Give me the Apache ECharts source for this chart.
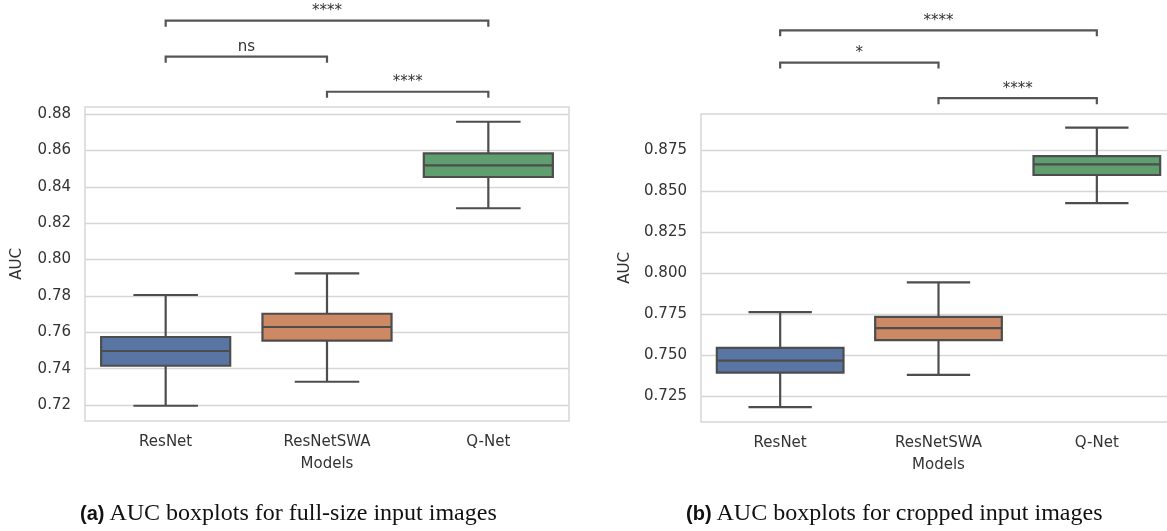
<!DOCTYPE html>
<html>
<head>
<meta charset="utf-8">
<script src="https://cdn.jsdelivr.net/npm/echarts@6/dist/echarts.min.js"></script>
<style>
html,body{margin:0;padding:0;background:#fff;overflow:hidden;width:1167px;height:531px;}
#chart{width:1190px;height:531px;}
</style>
</head>
<body>
<div id="chart"></div>
<script>
// ---- data ----
const categories = ['ResNet', 'ResNetSWA', 'Q-Net'];

const fullLow    = [0.7196, 0.7328, 0.8282];
const fullQ1     = [0.7416, 0.7554, 0.8454];
const fullMedian = [0.7497, 0.7629, 0.8518];
const fullQ3     = [0.7574, 0.7702, 0.8584];
const fullHigh   = [0.7805, 0.7924, 0.8758];

const cropLow    = [0.7185, 0.7382, 0.8427];
const cropQ1     = [0.7396, 0.7593, 0.8598];
const cropMedian = [0.7469, 0.7666, 0.8663];
const cropQ3     = [0.7546, 0.7735, 0.8713];
const cropHigh   = [0.7763, 0.7944, 0.8886];

const fullTicks = [0.72, 0.74, 0.76, 0.78, 0.80, 0.82, 0.84, 0.86, 0.88];
const cropTicks = [0.725, 0.750, 0.775, 0.800, 0.825, 0.850, 0.875];

// significance brackets: [from category, to category, level, label]
const fullBrackets = [[0, 2, 0.9314, '****'], [0, 1, 0.9116, 'ns'], [1, 2, 0.8923, '****']];
const cropBrackets = [[0, 2, 0.9478, '****'], [0, 1, 0.9282, '*'], [1, 2, 0.9065, '****']];

const captionA = ['(a)', 'AUC boxplots for full-size input images'];
const captionB = ['(b)', 'AUC boxplots for cropped input images'];

// ---- styles ----
const boxColors = ['#5975a4', '#cc8963', '#5f9e6e'];
const lineColor = '#4d4d4d';
const textColor = '#333333';
const gridColor = '#d6d6d6';
const FONT = 'DejaVu Sans';

function boxData(low, q1, med, q3, high) {
  return categories.map((c, i) => [i, low[i], q1[i], med[i], q3[i], high[i]]);
}

function renderBox(params, api) {
  const x = api.value(0);
  const band = api.size([1, 0])[0];
  const bw = band * 0.8, cw = band * 0.4;
  const pLow = api.coord([x, api.value(1)]);
  const pQ1 = api.coord([x, api.value(2)]);
  const pMed = api.coord([x, api.value(3)]);
  const pQ3 = api.coord([x, api.value(4)]);
  const pHigh = api.coord([x, api.value(5)]);
  const cx = pQ1[0];
  const ls = {stroke: lineColor, lineWidth: 2.2};
  return {
    type: 'group',
    children: [
      {type: 'line', shape: {x1: cx, y1: pQ3[1], x2: cx, y2: pHigh[1]}, style: ls},
      {type: 'line', shape: {x1: cx, y1: pQ1[1], x2: cx, y2: pLow[1]}, style: ls},
      {type: 'line', shape: {x1: cx - cw / 2, y1: pHigh[1], x2: cx + cw / 2, y2: pHigh[1]}, style: ls},
      {type: 'line', shape: {x1: cx - cw / 2, y1: pLow[1], x2: cx + cw / 2, y2: pLow[1]}, style: ls},
      {type: 'rect', shape: {x: cx - bw / 2, y: pQ3[1], width: bw, height: pQ1[1] - pQ3[1]},
        style: {fill: boxColors[x], stroke: lineColor, lineWidth: 2.2}},
      {type: 'line', shape: {x1: cx - bw / 2, y1: pMed[1], x2: cx + bw / 2, y2: pMed[1]}, style: ls}
    ]
  };
}

function renderBracket(params, api) {
  const a = api.coord([api.value(0), api.value(2)]);
  const b = api.coord([api.value(1), api.value(2)]);
  const t = 6;
  const label = api.value(3);
  return {
    type: 'group',
    children: [
      {type: 'polyline', shape: {points: [[a[0], a[1] + t], a, b, [b[0], b[1] + t]]},
        style: {stroke: '#555555', lineWidth: 2.2, fill: null}},
      {type: 'text', x: (a[0] + b[0]) / 2, y: a[1] - 2,
        style: {text: label, fontFamily: FONT, fontSize: 15, fill: textColor,
          align: 'center', verticalAlign: 'bottom'}}
    ]
  };
}

function yAxis(gridIndex, min, max, ticks, digits, nameGap) {
  return {
    type: 'value', gridIndex, min, max,
    name: 'AUC', nameLocation: 'middle', nameGap, nameRotate: 90,
    nameTextStyle: {fontFamily: FONT, fontSize: 15, color: textColor},
    axisLine: {show: false},
    axisTick: {show: false, customValues: ticks},
    axisLabel: {customValues: ticks, fontFamily: FONT, fontSize: 15, color: textColor, margin: 14,
      formatter: v => Number(v).toFixed(digits)},
    splitLine: {show: true, lineStyle: {color: gridColor, width: 1.3}}
  };
}

function xAxis(gridIndex) {
  return {
    type: 'category', gridIndex, data: categories,
    name: 'Models', nameLocation: 'middle', nameGap: 36,
    nameTextStyle: {fontFamily: FONT, fontSize: 15, color: textColor},
    axisLine: {show: false}, axisTick: {show: false},
    axisLabel: {fontFamily: FONT, fontSize: 15, color: textColor, margin: 14},
    splitLine: {show: false}
  };
}

const capRich = {
  b: {fontFamily: 'Liberation Sans', fontWeight: 'bold', fontSize: 20, color: '#111'},
  r: {fontFamily: 'Liberation Serif', fontWeight: 'normal', fontSize: 24, color: '#111'}
};

const chart = echarts.init(document.getElementById('chart'), null, {renderer: 'canvas'});
chart.setOption({
  animation: false,
  backgroundColor: '#ffffff',
  grid: [
    {left: 85, top: 107, width: 484, height: 314, show: true, borderColor: gridColor, borderWidth: 1.5, backgroundColor: 'transparent'},
    {left: 701, top: 114, width: 475, height: 308, show: true, borderColor: gridColor, borderWidth: 1.5, backgroundColor: 'transparent'}
  ],
  xAxis: [xAxis(0), xAxis(1)],
  yAxis: [
    yAxis(0, 0.7112, 0.8839, fullTicks, 2, 60),
    yAxis(1, 0.7095, 0.8969, cropTicks, 3, 68)
  ],
  title: [
    {text: '{b|' + captionA[0] + '} {r|' + captionA[1] + '}', left: 75, top: 497,
      textStyle: {fontWeight: 'normal', rich: capRich}},
    {text: '{b|' + captionB[0] + '} {r|' + captionB[1] + '}', left: 681, top: 497,
      textStyle: {fontWeight: 'normal', rich: capRich}}
  ],
  series: [
    {type: 'custom', xAxisIndex: 0, yAxisIndex: 0, renderItem: renderBox,
      encode: {x: 0, y: [1, 2, 3, 4, 5]}, data: boxData(fullLow, fullQ1, fullMedian, fullQ3, fullHigh)},
    {type: 'custom', xAxisIndex: 1, yAxisIndex: 1, renderItem: renderBox,
      encode: {x: 0, y: [1, 2, 3, 4, 5]}, data: boxData(cropLow, cropQ1, cropMedian, cropQ3, cropHigh)},
    {type: 'custom', xAxisIndex: 0, yAxisIndex: 0, renderItem: renderBracket, clip: false,
      encode: {x: [0, 1], y: 2}, dimensions: ['a', 'b', 'level', {name: 'label', type: 'ordinal'}],
      data: fullBrackets},
    {type: 'custom', xAxisIndex: 1, yAxisIndex: 1, renderItem: renderBracket, clip: false,
      encode: {x: [0, 1], y: 2}, dimensions: ['a', 'b', 'level', {name: 'label', type: 'ordinal'}],
      data: cropBrackets}
  ]
});
</script>
</body>
</html>
